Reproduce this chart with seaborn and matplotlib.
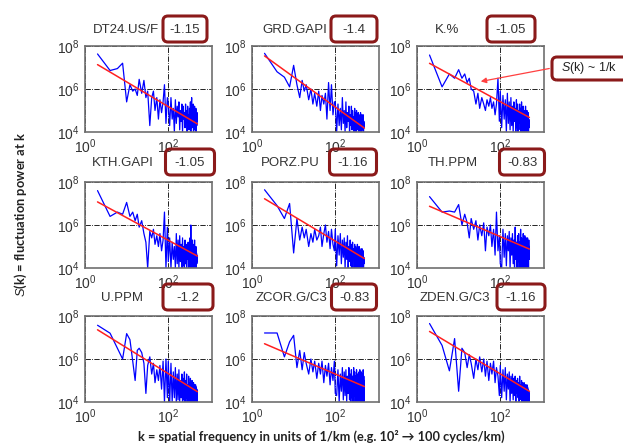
import numpy as np
import pandas as pd
import matplotlib
matplotlib.use("Agg")
import matplotlib.pyplot as plt
import seaborn as sns
from matplotlib.patches import FancyBboxPatch, FancyArrowPatch
from matplotlib.transforms import IdentityTransform

# ---- data -----------------------------------------------------------------
# spatial frequency k (cycles/km): coarse part below 100, dense part above
k_low = [2, 4, 6, 8, 10, 12, 14, 16, 18, 20, 23, 26, 29, 32, 36, 40, 44, 48,
         53, 58, 63, 69, 75, 81, 88, 95]
k_high = [100, 108, 116, 124, 132, 140, 148, 156, 164, 172, 180, 188, 196, 204,
          212, 220, 228, 236, 244, 252, 260, 268, 276, 284, 292, 300, 308, 316,
          324, 332, 340, 348, 356, 364, 372, 380, 388, 396, 404, 412, 420, 428,
          436, 444, 452, 460, 468, 476, 484, 492, 500]
k = k_low + k_high

names = ["DT24.US/F", "GRD.GAPI", "K.%", "KTH.GAPI", "PORZ.PU", "TH.PPM",
         "U.PPM", "ZCOR.G/C3", "ZDEN.G/C3"]
slope_labels = ["-1.15", "-1.4", "-1.05", "-1.05", "-1.16", "-0.83",
                "-1.2", "-0.83", "-1.16"]
slopes = [-1.15, -1.4, -1.05, -1.05, -1.16, -0.83, -1.2, -0.83, -1.16]
# log10 of the power-law fit at k = 1
intercepts = [7.48, 7.96, 7.51, 7.39, 7.57, 7.12, 7.72, 6.96, 7.63]

# log10 S(k) for each log, on k_low then k_high
dt24 = [7.63, 6.86, 6.95, 7.2, 5.4, 6.2, 5.9, 6.0, 5.7, 6.45, 5.8, 6.4, 5.6,
        5.9, 4.3, 5.6, 5.9, 5.0, 5.6, 4.6, 5.5, 4.9, 5.4, 6.2, 4.4, 5.6,
        5.3, 4.3, 5.6, 4.6, 5.1, 4.0, 5.5, 4.4, 5.2, 4.7, 5.4, 4.1, 5.0, 4.5,
        5.3, 4.0, 5.2, 4.6, 4.9, 4.2, 5.3, 4.4, 5.0, 4.0, 5.2, 4.5, 4.8, 4.1,
        5.1, 4.3, 5.4, 4.0, 5.0, 5.6, 4.2, 4.9, 4.4, 5.3, 4.0, 5.0, 4.3, 5.2,
        4.1, 4.8, 4.4, 5.1, 4.0, 4.7, 4.3, 4.9, 4.5]
grd = [7.66, 6.8, 6.55, 6.1, 7.1, 6.2, 5.6, 6.4, 5.9, 6.2, 5.5, 6.0, 5.3, 5.8,
       5.2, 5.9, 5.0, 5.7, 5.3, 5.8, 4.6, 6.3, 5.0, 6.2, 4.8, 5.4,
       5.4, 4.0, 5.3, 4.3, 5.1, 4.1, 5.6, 4.4, 5.0, 4.0, 5.4, 4.2, 4.9, 4.5,
       5.2, 4.0, 4.8, 4.3, 5.2, 4.1, 5.0, 4.4, 4.7, 4.0, 5.1, 4.2, 4.9, 4.0,
       5.0, 4.3, 4.7, 4.1, 4.9, 4.0, 4.8, 4.3, 4.6, 4.0, 4.9, 4.2, 4.7, 4.0,
       4.8, 4.1, 4.6, 4.3, 4.8, 4.0, 4.5, 4.2, 4.4]
kpct = [7.58, 6.1, 6.7, 6.5, 6.9, 6.5, 6.7, 6.3, 6.5, 6.0, 5.9, 5.3, 5.8, 5.1,
        5.6, 5.3, 5.0, 5.5, 5.2, 5.6, 5.1, 5.4, 4.8, 5.3, 6.5, 4.5,
        5.9, 4.2, 5.7, 4.6, 5.5, 4.0, 5.8, 4.4, 5.4, 4.1, 5.6, 4.3, 5.2, 4.0,
        5.4, 4.5, 5.1, 4.0, 5.5, 4.2, 5.3, 4.0, 5.0, 4.4, 5.3, 4.1, 5.1, 4.0,
        5.4, 4.3, 4.9, 4.0, 5.2, 4.2, 5.0, 4.0, 4.8, 4.3, 5.2, 4.0, 4.9, 4.2,
        5.0, 4.0, 4.7, 4.3, 4.9, 4.0, 4.6, 4.2, 4.5]
kth = [7.6, 6.4, 6.6, 6.5, 7.05, 6.4, 6.6, 6.2, 6.5, 5.9, 6.2, 5.6, 5.2, 4.0,
       5.7, 5.4, 5.8, 5.1, 5.5, 5.0, 5.6, 4.8, 5.3, 6.6, 4.0, 5.9,
       4.3, 5.4, 4.0, 5.2, 4.4, 5.0, 4.0, 5.6, 4.2, 5.3, 4.0, 5.5, 4.3, 5.1,
       4.0, 5.4, 4.1, 5.0, 4.0, 5.3, 4.2, 5.1, 4.0, 4.9, 4.4, 5.2, 4.0, 5.0,
       4.1, 5.4, 4.0, 6.0, 4.2, 5.0, 4.0, 5.3, 4.1, 4.9, 4.0, 5.1, 4.3, 5.3,
       4.0, 4.8, 4.1, 5.0, 4.0, 4.7, 4.2, 4.6, 4.3]
porz = [7.64, 6.9, 6.3, 7.0, 4.7, 6.3, 5.3, 5.9, 5.4, 5.8, 5.0, 5.6, 5.2, 5.8,
        5.3, 5.5, 5.9, 5.0, 5.6, 6.0, 5.2, 5.7, 4.9, 5.8, 5.1, 4.8,
        5.8, 4.1, 5.5, 4.6, 5.6, 4.2, 5.3, 4.5, 5.4, 4.0, 5.2, 4.4, 5.5, 4.0,
        5.0, 4.3, 5.3, 4.1, 5.1, 4.0, 5.2, 4.4, 4.9, 4.0, 5.1, 4.2, 5.0, 4.0,
        4.9, 4.3, 5.1, 4.0, 4.8, 4.2, 5.0, 4.0, 4.9, 4.1, 4.7, 4.0, 4.8, 4.2,
        4.9, 4.0, 4.6, 4.1, 4.8, 4.0, 4.5, 4.2, 4.4]
thppm = [7.32, 6.6, 6.65, 6.6, 6.95, 6.0, 6.5, 6.1, 5.4, 6.3, 5.8, 6.2, 5.3,
         6.0, 5.5, 6.1, 4.8, 5.9, 5.5, 6.0, 5.0, 5.8, 4.6, 6.6, 4.8, 5.5,
         4.2, 4.0, 5.8, 4.5, 5.6, 4.1, 5.5, 4.8, 5.7, 4.0, 5.4, 4.6, 5.6, 4.2,
         5.3, 4.0, 5.9, 4.4, 5.2, 4.0, 5.5, 4.3, 5.6, 4.0, 5.2, 4.5, 5.8, 4.0,
         5.4, 4.2, 5.3, 4.0, 5.6, 4.4, 5.2, 4.0, 5.5, 4.1, 5.3, 4.0, 5.4, 4.3,
         5.1, 4.0, 5.4, 4.2, 5.2, 4.0, 5.3, 4.4, 5.0]
uppm = [7.57, 7.2, 6.5, 6.0, 7.18, 6.9, 5.9, 5.0, 6.4, 6.5, 6.3, 5.8, 4.4, 5.7,
        6.1, 5.3, 5.8, 4.9, 5.5, 5.0, 5.7, 4.6, 5.9, 4.0, 6.0, 4.2,
        5.9, 3.9, 5.8, 4.0, 5.4, 4.2, 5.6, 3.9, 5.3, 4.1, 5.5, 4.0, 5.0, 4.2,
        5.3, 3.9, 5.1, 4.1, 5.4, 4.0, 5.0, 4.2, 5.3, 3.9, 4.8, 4.1, 5.2, 4.0,
        4.9, 3.9, 5.1, 4.1, 4.8, 4.0, 5.0, 3.9, 4.7, 4.2, 4.9, 4.0, 4.8, 3.9,
        4.6, 4.1, 4.8, 4.0, 4.7, 4.2, 4.6, 4.0, 4.5]
zcor = [7.21, 7.21, 6.1, 6.8, 7.1, 5.6, 6.4, 5.5, 6.3, 5.8, 5.3, 6.0, 5.4, 5.9,
        5.1, 5.8, 5.3, 5.9, 4.9, 5.7, 5.2, 5.8, 4.8, 5.6, 5.0, 5.9,
        4.4, 4.3, 5.5, 4.0, 5.3, 4.5, 5.6, 4.1, 5.4, 4.3, 5.5, 4.0, 5.2, 4.4,
        5.6, 4.1, 5.3, 4.0, 5.5, 4.2, 5.2, 4.0, 5.6, 4.3, 5.4, 4.0, 5.2, 4.2,
        5.5, 4.0, 5.3, 4.4, 5.1, 4.0, 5.4, 4.2, 5.5, 4.0, 5.2, 4.3, 5.4, 4.0,
        5.1, 4.2, 5.3, 4.0, 5.5, 4.1, 5.2, 4.0, 5.0]
zden = [7.65, 6.63, 5.45, 6.95, 4.5, 6.5, 6.3, 5.6, 6.2, 5.8, 5.1, 6.0, 5.5,
        6.1, 5.4, 6.0, 5.2, 5.9, 5.0, 5.8, 5.3, 5.9, 4.9, 5.6, 5.2, 4.3,
        5.7, 4.2, 5.5, 4.5, 5.6, 4.1, 5.3, 4.6, 5.4, 4.0, 5.2, 4.4, 5.3, 4.1,
        5.1, 4.3, 5.2, 4.0, 5.0, 4.4, 5.1, 4.2, 4.9, 4.0, 5.2, 4.3, 4.8, 4.1,
        5.0, 4.0, 4.9, 4.2, 4.8, 4.0, 4.9, 4.3, 4.7, 4.0, 4.8, 4.2, 4.6, 4.0,
        4.8, 4.1, 4.7, 4.0, 4.6, 4.2, 4.5, 4.0, 4.4]
spectra = [dt24, grd, kpct, kth, porz, thppm, uppm, zcor, zden]

# ---- layout (pixels) ------------------------------------------------------
W, H = 623, 445
col_left = [85, 252, 417]
row_top = [46, 182, 316]
ax_w, ax_h = 127, 86
name_cx = [126, 295, 447, 123, 290, 453, 122, 292, 455]
box_cx = [185, 354, 511, 190, 353, 522, 188, 354, 521]
box_w = [44, 46, 48, 49, 47, 45, 50, 45, 48]
title_y = [30, 163, 298]

BOX_RED = "#8b1a1a"

sns.set_style("white")
plt.rcParams["font.family"] = ["Liberation Sans", "DejaVu Sans"]
plt.rcParams["mathtext.fontset"] = "custom"
plt.rcParams["mathtext.rm"] = "Liberation Sans"
plt.rcParams["mathtext.it"] = "Liberation Sans:italic"

fig = plt.figure(figsize=(W / 100, H / 100), dpi=100)
px = IdentityTransform()

for i, (name, vals) in enumerate(zip(names, spectra)):
    r, c = divmod(i, 3)
    left, top = col_left[c], row_top[r]
    ax = fig.add_axes([left / W, 1 - (top + ax_h) / H, ax_w / W, ax_h / H])

    df = pd.DataFrame({"k": k, "S": 10 ** np.array(vals)})
    df["fit"] = 10 ** (intercepts[i] + slopes[i] * np.log10(df["k"]))
    sns.lineplot(data=df, x="k", y="S", ax=ax, color="#0000ff", lw=0.9,
                 sort=False, estimator=None)
    sns.lineplot(data=df, x="k", y="fit", ax=ax, color="#ff2020", lw=1.1,
                 sort=False, estimator=None)

    ax.set_xscale("log")
    ax.set_yscale("log")
    ax.set_xlim(1, 10 ** 3.05)
    ax.set_ylim(1e4, 1e8)
    ax.set_xticks([1, 100])
    ax.set_yticks([1e4, 1e6, 1e8])
    ax.minorticks_off()
    ax.set_xlabel("")
    ax.set_ylabel("")
    ax.grid(True, which="major", color="black", linestyle="-.", lw=0.6)
    ax.tick_params(length=0, labelsize=10, colors="#333333", pad=4)
    for sp in ax.spines.values():
        sp.set_color("#707070")
        sp.set_linewidth(1.2)

    # panel title: log name and fitted slope in a rounded box
    ty = H - title_y[r]
    fig.text(name_cx[i] / W, ty / H, name, ha="center", va="center",
             fontsize=9.5, color="#333333")
    bw, bh = box_w[i], 26
    fig.patches.append(FancyBboxPatch(
        (box_cx[i] - bw / 2, ty - bh / 2 + 1), bw, bh,
        boxstyle="round,pad=0,rounding_size=5", transform=px,
        fill=False, edgecolor=BOX_RED, lw=2.2, figure=fig))
    fig.text(box_cx[i] / W, ty / H, slope_labels[i], ha="center", va="center",
             fontsize=9.5, color="#333333")

# S(k) ~ 1/k call-out with arrow into the K.% panel
fig.patches.append(FancyBboxPatch(
    (552, H - 80), 90, 23, boxstyle="round,pad=0,rounding_size=5",
    transform=px, fill=False, edgecolor=BOX_RED, lw=2.2, figure=fig))
fig.text(561 / W, (H - 68.5) / H, r"$S$(k) ~ 1/k", ha="left", va="center",
         fontsize=9, color="#222222")
fig.patches.append(FancyArrowPatch(
    (552, H - 68), (478, H - 82), transform=px, arrowstyle="-|>",
    mutation_scale=8, color="#ff4040", lw=0.9, figure=fig))

fig.text(321 / W, (H - 436) / H,
         "k = spatial frequency in units of 1/km (e.g. 10\u00b2 \u2192 100 cycles/km)",
         ha="center", va="center", fontsize=9.2, fontweight="bold",
         family=["Lato", "DejaVu Sans"], color="#222222")
fig.text(21 / W, (H - 214) / H, r"$S$(k) = fluctuation power at k",
         ha="center", va="center", rotation=90, fontsize=9.3,
         fontweight="bold", family=["Lato", "DejaVu Sans"], color="#222222")

fig.savefig("out.png", dpi=100)
